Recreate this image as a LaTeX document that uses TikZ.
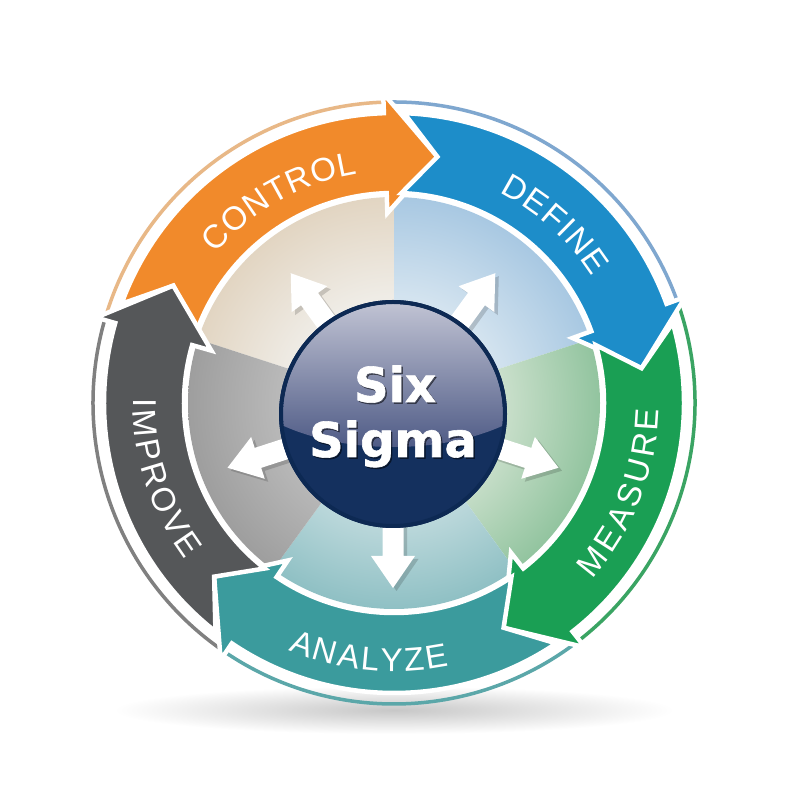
\documentclass[tikz,border=0pt]{standalone}
\usepackage{fontspec}
\setmainfont{Liberation Sans}
\newfontfamily\ballfont[FakeBold=1.2]{DejaVu Sans Bold}
\usetikzlibrary{calc}

\definecolor{cOrange}{HTML}{F18A2B}
\definecolor{cBlue}{HTML}{1D8DC9}
\definecolor{cGreen}{HTML}{1A9F54}
\definecolor{cTeal}{HTML}{3B9B9D}
\definecolor{cGray}{HTML}{555759}
\definecolor{lOrange}{HTML}{E8B887}
\definecolor{lBlue}{HTML}{7FA7CF}
\definecolor{lGreen}{HTML}{3AA463}
\definecolor{lTeal}{HTML}{5BA7A9}
\definecolor{lGray}{HTML}{808080}

\definecolor{sCa}{HTML}{EFECE6}\definecolor{sCb}{HTML}{E2D5C2}
\definecolor{sDa}{HTML}{D3E3EF}\definecolor{sDb}{HTML}{A8C8E2}
\definecolor{sMa}{HTML}{CBE0CC}\definecolor{sMb}{HTML}{92C49F}
\definecolor{sAa}{HTML}{C3DCDF}\definecolor{sAb}{HTML}{8FC0C4}
\definecolor{sIa}{HTML}{BBBBBB}\definecolor{sIb}{HTML}{9E9E9E}

\definecolor{navy}{HTML}{14305E}
\definecolor{navyrim}{HTML}{0D2953}
\definecolor{glossTop}{HTML}{D3D4E0}
\definecolor{glossBot}{HTML}{4F5B86}

\pgfdeclareradialshading{segC}{\pgfpoint{0bp}{0bp}}{color(0bp)=(sCa); color(13bp)=(sCa); color(25bp)=(sCb); color(50bp)=(sCb)}
\pgfdeclareradialshading{segD}{\pgfpoint{0bp}{0bp}}{color(0bp)=(sDa); color(13bp)=(sDa); color(25bp)=(sDb); color(50bp)=(sDb)}
\pgfdeclareradialshading{segM}{\pgfpoint{0bp}{0bp}}{color(0bp)=(sMa); color(13bp)=(sMa); color(25bp)=(sMb); color(50bp)=(sMb)}
\pgfdeclareradialshading{segA}{\pgfpoint{0bp}{0bp}}{color(0bp)=(sAa); color(13bp)=(sAa); color(25bp)=(sAb); color(50bp)=(sAb)}
\pgfdeclareradialshading{segI}{\pgfpoint{0bp}{0bp}}{color(0bp)=(sIa); color(13bp)=(sIa); color(25bp)=(sIb); color(50bp)=(sIb)}

\newcommand\labelfont{\fontsize{33}{33}\selectfont}
\def\lblsize{33}

% #1 mid angle, #2 radius, #3 direction (1 = clockwise, tops out; -1 = counterclockwise, tops in),
% #4 tracking, #5 list letter/advance width in em (Arial metrics)
\newcommand\arcword[5]{%
  \gdef\acctot{0}%
  \foreach \ch/\w in {#5}{%
    \pgfmathsetmacro\tmpa{\acctot+\w*\lblsize+#4}%
    \global\let\acctot\tmpa}%
  \pgfmathsetmacro\tmpa{\acctot-#4}\global\let\acctot\tmpa
  \gdef\acccum{0}%
  \foreach \ch/\w in {#5}{%
    \pgfmathsetmacro\chw{\w*\lblsize}%
    \pgfmathsetmacro\chs{\acccum+\chw/2-\acctot/2}%
    \pgfmathsetmacro\chang{(#1)-(#3)*(\chs)/(#2)*57.29578}%
    \pgfmathsetmacro\chrot{\chang-(#3)*90}%
    \node[lbl, rotate=\chrot] at (\chang:#2) {\ch};
    \pgfmathsetmacro\tmpa{\acccum+\chw+#4}%
    \global\let\acccum\tmpa}%
}

\begin{document}
\begin{tikzpicture}[x=1pt,y=1pt,
  lbl/.style={text=white, font=\labelfont, inner sep=0pt, text height=23.6pt, text depth=0pt, anchor=center},
  ringarrow/.style={draw=white, line width=4.5, line join=miter},
  rimline/.style={line width=3.5},
  centerarrow/.style={fill=white},
  arrowshadow/.style={fill=black, opacity=0.16},
  balltext/.style={font=\ballfont\fontsize{48}{48}\selectfont, text=white, anchor=base, inner sep=0pt}]
\useasboundingbox (0,0) rectangle (800,800);
\fill[white] (0,0) rectangle (800,800);

% soft shadow under the wheel
\shade[inner color=black!22, outer color=white] (394,90) ellipse[x radius=280, y radius=24];

\begin{scope}[shift={(394,397)}]
  % inner disc segments
  \foreach \a/\sh in {90/segC,18/segD,-54/segM,-126/segA,162/segI}{
    \begin{scope}
      \clip (0,0) -- (\a:260) arc[start angle=\a, delta angle=72, radius=260] -- cycle;
      \shade[shading=\sh] (0,0) circle[radius=206];
    \end{scope}
  }

  % white arrows from the ball
  \foreach \a in {126,54,-18,-90,198}{
    \fill[arrowshadow, shift={(2.5,-14)}, rotate=\a]
      (0,-10.5) -- (142,-10.5) -- (142,-22) -- (174,0) -- (142,22) -- (142,10.5) -- (0,10.5) -- cycle;
    \fill[centerarrow, shift={(-1,-11)}, rotate=\a]
      (0,-10.5) -- (142,-10.5) -- (142,-22) -- (174,0) -- (142,22) -- (142,10.5) -- (0,10.5) -- cycle;
  }

  % the ball
  \fill[navy] (-1,-11) circle[radius=114];
  \begin{scope}
    \clip (-1,-11) circle[radius=110];
    \shade[top color=glossTop, bottom color=glossBot] (-1,40) ellipse[x radius=165, y radius=84];
  \end{scope}
  \draw[navyrim, line width=4] (-1,-11) circle[radius=112];

  \node[balltext, text=black, opacity=0.45] at (2.5,-0.5) {Six};
  \node[balltext, text=black, opacity=0.45] at (0.5,-55.5) {Sigma};
  \node[balltext] (six) at (1,1) {Six};
  \node[balltext] (sigma) at (-1,-54) {Sigma};

  % thin outer rim lines
  \foreach \h/\lcol in {92/lOrange,20/lBlue,-52/lGreen,-124/lTeal,164/lGray}{
    \pgfmathsetmacro\tl{\h+72}
    \draw[rimline, \lcol] (\tl:301) arc[start angle=\tl, end angle=\h, radius=301];
  }

  % ring arrows
  \foreach \h/\col in {92/cOrange,20/cBlue,-52/cGreen,-124/cTeal,164/cGray}{
    \pgfmathsetmacro\ta{\h+68}
    \pgfmathsetmacro\tn{\h+60}
    \pgfmathsetmacro\tp{\h-12}
    \filldraw[ringarrow, fill=\col]
      (\ta:290) arc[start angle=\ta, end angle=\h, radius=290]
      -- (\h:310) -- (\tp:250) -- (\h:190) -- (\h:210)
      arc[start angle=\h, end angle=\ta, radius=210]
      -- (\tn:250) -- cycle;
  }

  % labels
  \arcword{119.5}{244}{1}{2}{C/.722,O/.778,N/.722,T/.611,R/.722,O/.778,L/.556}
  \arcword{48}{247}{1}{2.2}{D/.722,E/.667,F/.611,I/.278,N/.722,E/.667}
  \arcword{-21.5}{253}{-1}{2.6}{M/.833,E/.667,A/.667,S/.667,U/.722,R/.722,E/.667}
  \arcword{-95.7}{257}{-1}{1.2}{A/.667,N/.722,A/.667,L/.556,Y/.667,Z/.611,E/.667}
  \arcword{198}{249}{-1}{2.2}{I/.278,M/.833,P/.667,R/.722,O/.778,V/.667,E/.667}
\end{scope}
\end{tikzpicture}
\end{document}
